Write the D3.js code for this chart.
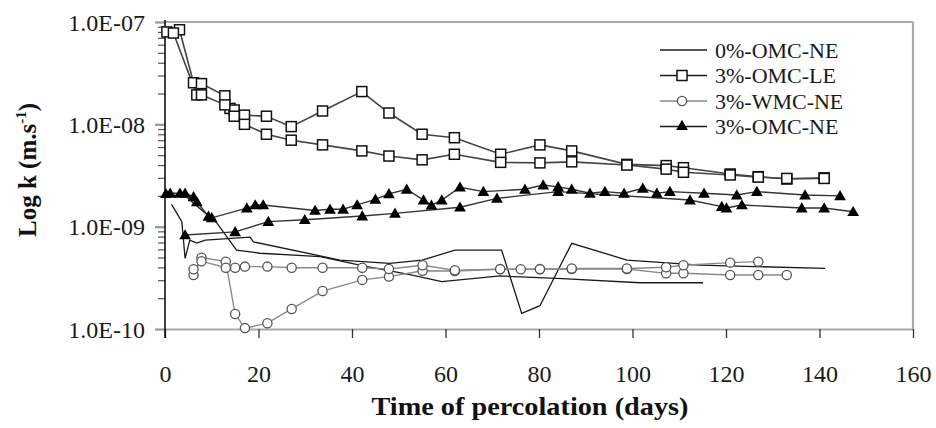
<!DOCTYPE html>
<html><head><meta charset="utf-8">
<script src="https://cdn.jsdelivr.net/npm/d3@7"></script>
<style>
body{margin:0;background:#fff;}
svg{display:block;font-family:"Liberation Serif","Times New Roman",serif;}
</style></head>
<body><svg id="c" width="936" height="428"></svg>
<script>
// ---- data: [day, k (m/s)] ----
const omc0NE_run1 = [[1.4,1.65e-9],[3.6,1.12e-9],[4.3,4.9e-10],[5.3,7.4e-10],[6.8,6.9e-10],[8.6,7.4e-10],[18.2,7.9e-10],[18.9,7.1e-10],[37.4,4.72e-10],[48.1,4.37e-10],[55,4.7e-10],[62,5.9e-10],[72,5.9e-10],[76.3,1.42e-10],[80.2,1.69e-10],[87,6.87e-10],[98.8,4.72e-10],[114.4,4.2e-10],[141.2,3.92e-10]];
const omc0NE_run2 = [[0,2.05e-9],[4.3,2.0e-9],[7.5,1.5e-9],[11,1.1e-9],[15.3,5.9e-10],[20.3,5.5e-10],[33.2,5.1e-10],[42.4,4.13e-10],[52.4,3.4e-10],[59.2,2.9e-10],[71.7,3.3e-10],[85,3.1e-10],[101.6,2.83e-10],[115.1,2.83e-10]];
const omcLE_run1 = [[0.4,8.0e-8],[3.1,8.4e-8],[6.1,2.55e-8],[7.8,2.5e-8],[12.8,1.9e-8],[13.9,1.43e-8],[14.8,1.38e-8],[17,1.23e-8],[21.7,1.2e-8],[27,9.5e-9],[33.7,1.35e-8],[42.1,2.09e-8],[47.9,1.29e-8],[55,8.0e-9],[61.9,7.4e-9],[71.8,5.1e-9],[80.2,6.3e-9],[87,5.5e-9],[98.8,4.06e-9],[107.2,3.95e-9],[110.9,3.77e-9],[120.9,3.27e-9],[126.9,3.08e-9],[133,2.92e-9],[141,3.0e-9]];
const omcLE_run2 = [[1.8,7.8e-8],[6.8,1.94e-8],[7.8,1.94e-8],[12.8,1.55e-8],[14.8,1.2e-8],[17,1.0e-8],[21.7,8.0e-9],[27,7.0e-9],[33.7,6.3e-9],[42.1,5.5e-9],[47.9,4.9e-9],[55,4.5e-9],[61.9,5.1e-9],[71.8,4.25e-9],[80.2,4.2e-9],[87,4.3e-9],[98.8,4.0e-9],[107.2,3.65e-9],[110.9,3.4e-9],[120.9,3.2e-9],[126.9,3.05e-9],[133,2.96e-9],[141,2.96e-9]];
const wmcNE_run1 = [[6.1,3.37e-10],[7.8,4.98e-10],[13,4.55e-10],[15,1.4e-10],[17.1,1.02e-10],[21.9,1.14e-10],[27.1,1.57e-10],[33.7,2.35e-10],[42.2,3.02e-10],[47.9,3.25e-10],[55.1,3.71e-10],[62,3.69e-10],[71.7,3.83e-10],[76.1,3.83e-10],[80.2,3.83e-10],[87,3.86e-10],[98.8,3.86e-10],[107.2,3.5e-10],[110.9,3.5e-10],[120.9,3.37e-10],[126.9,3.37e-10],[133,3.37e-10]];
const wmcNE_run2 = [[6.1,3.83e-10],[7.8,4.6e-10],[13,3.97e-10],[15,3.97e-10],[17.1,4.07e-10],[21.9,4.07e-10],[27.1,3.97e-10],[33.7,3.97e-10],[42.2,3.97e-10],[47.9,3.86e-10],[55.1,4.2e-10],[62,3.75e-10],[71.7,3.85e-10],[80.2,3.85e-10],[87,3.9e-10],[98.8,3.9e-10],[107.2,4.01e-10],[110.9,4.2e-10],[120.9,4.45e-10],[126.9,4.55e-10]];
const omcNE_run1 = [[0.2,2.1e-9],[1.1,2.12e-9],[3.2,2.12e-9],[4.3,2.12e-9],[6.1,1.96e-9],[6.8,1.75e-9],[9.3,1.26e-9],[10,1.22e-9],[17.5,1.52e-9],[19.3,1.63e-9],[21,1.63e-9],[32.1,1.44e-9],[35.3,1.48e-9],[38.1,1.48e-9],[41.1,1.63e-9],[45,1.85e-9],[47.9,2.09e-9],[51.7,2.32e-9],[55.3,1.82e-9],[57,1.62e-9],[59.2,1.82e-9],[63.1,2.43e-9],[68.1,2.2e-9],[77,2.32e-9],[80.9,2.55e-9],[84.1,2.45e-9],[87,2.32e-9],[90.9,2.12e-9],[94.1,2.2e-9],[98.2,2.12e-9],[102.2,2.37e-9],[105.2,2.12e-9],[108,2.2e-9],[115.3,2.12e-9],[122.3,2.04e-9],[126.6,2.2e-9],[136.9,2.04e-9],[144.4,2.0e-9]];
const omcNE_run2 = [[4.3,8.3e-10],[15,8.9e-10],[22.1,1.12e-9],[29.9,1.17e-9],[42.2,1.27e-9],[49.2,1.35e-9],[63.1,1.55e-9],[71,1.89e-9],[84.1,2.2e-9],[112.3,1.82e-9],[119.1,1.57e-9],[120.1,1.52e-9],[123.4,1.63e-9],[136.2,1.52e-9],[141,1.52e-9],[147.2,1.4e-9]];

const seriesNames = ["0%-OMC-NE","3%-OMC-LE","3%-WMC-NE","3%-OMC-NE"];
const xTickValues = [0,20,40,60,80,100,120,140,160];
const yTickValues = [1e-10,1e-9,1e-8,1e-7];
const yTickLabels = ["1.0E-10","1.0E-09","1.0E-08","1.0E-07"];
const xTitle = "Time of percolation (days)";

// ---- layout ----
const svg = d3.select("#c");
const x = d3.scaleLinear().domain([0,160]).range([165,913]);
const y = d3.scaleLog().domain([1e-10,1e-7]).range([329,22]);

// frame (top, right gray)
svg.append("line").attr("x1",x(0)).attr("x2",x(160)).attr("y1",y(1e-7)).attr("y2",y(1e-7)).attr("stroke","#aaa").attr("stroke-width",2.2);
svg.append("line").attr("x1",x(160)).attr("x2",x(160)).attr("y1",y(1e-7)).attr("y2",y(1e-10)).attr("stroke","#aaa").attr("stroke-width",2.2);

// x axis
const xAxis = svg.append("g").attr("transform",`translate(0,${y(1e-10)})`)
  .call(d3.axisBottom(x).tickValues(xTickValues).tickSize(9).tickSizeOuter(0).tickFormat(d3.format("d")));
xAxis.select(".domain").attr("stroke","#aaa").attr("stroke-width",2.2);
xAxis.selectAll(".tick line").attr("stroke","#333").attr("stroke-width",1.3);
xAxis.selectAll(".tick text").attr("y",53).attr("dy",0).attr("font-size",24).attr("fill","#1a1a1a")
  .attr("font-family","Liberation Serif, serif");

// y axis minor ticks
const minor = [];
for (let e=-10;e<-7;e++) for (let m=2;m<=9;m++) minor.push(m*Math.pow(10,e));
const yMinor = svg.append("g").attr("transform",`translate(${x(0)},0)`)
  .call(d3.axisLeft(y).tickValues(minor).tickSize(7).tickFormat(""));
yMinor.select(".domain").remove();
yMinor.selectAll(".tick line").attr("stroke","#555").attr("stroke-width",1.2);

// y axis major
const yAxis = svg.append("g").attr("transform",`translate(${x(0)},0)`)
  .call(d3.axisLeft(y).tickValues(yTickValues).tickSize(10).tickPadding(10).tickSizeOuter(0)
    .tickFormat((d,i)=>yTickLabels[i]));
yAxis.select(".domain").remove();
yAxis.selectAll(".tick line").attr("stroke","#999").attr("stroke-width",2.2);
yAxis.selectAll(".tick text").attr("font-size",24).attr("fill","#1a1a1a").attr("font-family","Liberation Serif, serif").attr("dy","0.34em");
svg.append("line").attr("x1",x(0)).attr("x2",x(0)).attr("y1",y(1e-7)-2).attr("y2",y(1e-10)+9)
  .attr("stroke","#111").attr("stroke-width",1.6);

// axis titles
svg.append("text").attr("x",530).attr("y",415).attr("text-anchor","middle")
  .attr("font-size",26).attr("font-weight","bold").attr("fill","#111")
  .attr("textLength",317).attr("lengthAdjust","spacingAndGlyphs").text(xTitle);
const yt = svg.append("text").attr("transform","translate(36,170) rotate(-90)").attr("text-anchor","middle")
  .attr("font-size",25).attr("font-weight","bold").attr("fill","#111");
yt.append("tspan").text("Log k (m.s");
yt.append("tspan").attr("font-size",15).attr("dy",-10).text("-1");
yt.append("tspan").attr("dy",10).text(")");

// ---- series ----
const line = d3.line().x(d=>x(d[0])).y(d=>y(d[1]));
const styles = {
  ne0:{stroke:"#1a1a1a",w:1.3},
  le:{stroke:"#444",w:1.6},
  wmc:{stroke:"#8a8a8a",w:1.4},
  ne:{stroke:"#333",w:1.4}
};
function drawLine(data, st){
  svg.append("path").datum(data).attr("d",line).attr("fill","none").attr("stroke",st.stroke).attr("stroke-width",st.w);
}
drawLine(omc0NE_run1, styles.ne0);
drawLine(omc0NE_run2, styles.ne0);
drawLine(wmcNE_run1, styles.wmc);
drawLine(wmcNE_run2, styles.wmc);
drawLine(omcNE_run1, styles.ne);
drawLine(omcNE_run2, styles.ne);
drawLine(omcLE_run1, styles.le);
drawLine(omcLE_run2, styles.le);

const tri = d3.symbol().type(d3.symbolTriangle).size(60);
function squares(data){
  svg.append("g").selectAll("rect").data(data).join("rect")
    .attr("x",d=>x(d[0])-5).attr("y",d=>y(d[1])-5).attr("width",10).attr("height",10)
    .attr("fill","#fff").attr("stroke","#111").attr("stroke-width",1.5);
}
function circles(data){
  svg.append("g").selectAll("circle").data(data).join("circle")
    .attr("cx",d=>x(d[0])).attr("cy",d=>y(d[1])).attr("r",4.6)
    .attr("fill","#fff").attr("stroke","#555").attr("stroke-width",1.3);
}
function triangles(data){
  svg.append("g").selectAll("path").data(data).join("path")
    .attr("d",tri).attr("transform",d=>`translate(${x(d[0])},${y(d[1])+1})`).attr("fill","#000");
}
circles(wmcNE_run1); circles(wmcNE_run2);
triangles(omcNE_run1); triangles(omcNE_run2);
squares(omcLE_run1); squares(omcLE_run2);

// ---- legend ----
const lg = svg.append("g");
const rows = [50,75.5,101,126.5];
seriesNames.forEach((n,i)=>{
  const ry = rows[i];
  lg.append("line").attr("x1",660).attr("x2",707).attr("y1",ry).attr("y2",ry)
    .attr("stroke",i===2?"#8a8a8a":"#1a1a1a").attr("stroke-width",1.5);
  if(i===1) lg.append("rect").attr("x",677).attr("y",ry-5).attr("width",10).attr("height",10).attr("fill","#fff").attr("stroke","#111").attr("stroke-width",1.5);
  if(i===2) lg.append("circle").attr("cx",682).attr("cy",ry).attr("r",4.6).attr("fill","#fff").attr("stroke","#555").attr("stroke-width",1.3);
  if(i===3) lg.append("path").attr("d",tri).attr("transform",`translate(682,${ry})`).attr("fill","#000");
  lg.append("text").attr("x",715).attr("y",ry).attr("dy","0.35em").attr("font-size",22).attr("fill","#1a1a1a").text(n);
});
</script></body></html>
